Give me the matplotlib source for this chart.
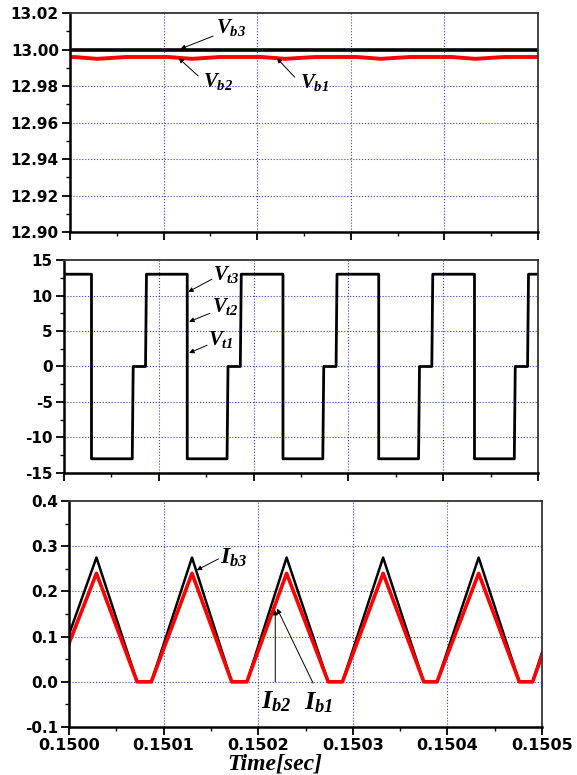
import numpy as np
import matplotlib
matplotlib.use("Agg")
import matplotlib.pyplot as plt
import matplotlib.ticker as ticker

# ── Style ──────────────────────────────────────────────────────────────────
plt.rcParams.update({
    "font.family"      : "DejaVu Sans",
    "font.weight"      : "bold",
    "mathtext.fontset" : "custom",
    "mathtext.it"      : "Liberation Serif:bold:italic",
    "mathtext.rm"      : "Liberation Serif:bold:italic",
    "mathtext.bf"      : "Liberation Serif:bold:italic",
})

C_GRID = "#3a3aff"
C_RED  = "#ff0000"

# ── Battery voltages [V] ───────────────────────────────────────────────────
t_vb3 = [0.15000, 0.15050]
vb3   = [13.000, 13.000]

t_vb12 = [0.150000, 0.150004, 0.150029, 0.150060, 0.150105, 0.150130,
          0.150160, 0.150205, 0.150230, 0.150262, 0.150307, 0.150332,
          0.150363, 0.150408, 0.150433, 0.150464, 0.150500]
vb12   = [12.9959, 12.9959, 12.9949, 12.9959, 12.9959, 12.9949,
          12.9959, 12.9959, 12.9949, 12.9959, 12.9959, 12.9949,
          12.9959, 12.9959, 12.9949, 12.9959, 12.9959]

# ── Terminal voltages [V] (all three overlap) ─────────────────────────────
t_vt = [0.150000, 0.150029, 0.150029, 0.150072, 0.150073, 0.150086, 0.150087,
        0.150130, 0.150130, 0.150172, 0.150173, 0.150186, 0.150187,
        0.150231, 0.150231, 0.150273, 0.150274, 0.150287, 0.150288,
        0.150332, 0.150332, 0.150374, 0.150375, 0.150388, 0.150389,
        0.150433, 0.150433, 0.150475, 0.150476, 0.150489, 0.150490,
        0.150500]
vt   = [13, 13, -13, -13, 0, 0, 13,
        13, -13, -13, 0, 0, 13,
        13, -13, -13, 0, 0, 13,
        13, -13, -13, 0, 0, 13,
        13, -13, -13, 0, 0, 13,
        13]

# ── Battery currents [A] ──────────────────────────────────────────────────
t_ib = [0.150000, 0.150029, 0.150072, 0.150087,
        0.150130, 0.150172, 0.150188,
        0.150230, 0.150274, 0.150289,
        0.150332, 0.150375, 0.150389,
        0.150433, 0.150476, 0.150490, 0.150500]
ib3  = [0.105, 0.275, 0.0, 0.0,
        0.275, 0.0, 0.0,
        0.275, 0.0, 0.0,
        0.275, 0.0, 0.0,
        0.275, 0.0, 0.0, 0.065]
ib12 = [0.085, 0.240, 0.0, 0.0,
        0.240, 0.0, 0.0,
        0.240, 0.0, 0.0,
        0.240, 0.0, 0.0,
        0.240, 0.0, 0.0, 0.058]

x_ticks = [0.1500, 0.1501, 0.1502, 0.1503, 0.1504, 0.1505]


def style_axes(ax, ylim, ymaj, ymin, ygrid, show_x=False):
    ax.set_xlim(0.1500, 0.1505)
    ax.set_ylim(*ylim)
    ax.xaxis.set_major_locator(ticker.FixedLocator(x_ticks))
    ax.xaxis.set_minor_locator(ticker.MultipleLocator(0.00005))
    ax.yaxis.set_major_locator(ticker.MultipleLocator(ymaj))
    ax.yaxis.set_minor_locator(ticker.MultipleLocator(ymin))
    ax.tick_params(which="major", direction="out", length=6, width=1.3,
                   labelsize=11, pad=2, top=False, right=False)
    ax.tick_params(which="minor", direction="out", length=3, width=1.0,
                   top=False, right=False)
    if not show_x:
        ax.tick_params(axis="x", labelbottom=False)
    for side in ("left", "bottom"):
        ax.spines[side].set_linewidth(1.8)
    for side in ("top", "right"):
        ax.spines[side].set_linewidth(1.3)
        ax.spines[side].set_color("#333333")
    for xg in x_ticks[1:-1]:
        ax.axvline(xg, color=C_GRID, lw=0.8, ls=":", zorder=0)
    for yg in ygrid:
        ax.axhline(yg, color=C_GRID, lw=0.8, ls=":", zorder=0)


def arrow(ax, tip, tail):
    ax.annotate("", xy=tip, xytext=tail,
                arrowprops=dict(arrowstyle="-|>", lw=0.7, color="black",
                                mutation_scale=7, shrinkA=0, shrinkB=0))


fig = plt.figure(figsize=(5.77, 7.75), dpi=100)

# ── Top: battery voltages ─────────────────────────────────────────────────
ax1 = fig.add_axes([0.1213, 0.7006, 0.8111, 0.2826])
ax1.plot(t_vb3, vb3, color="black", lw=2.6)
ax1.plot(t_vb12, vb12, color=C_RED, lw=2.8)
style_axes(ax1, (12.90, 13.02), 0.02, 0.01,
           [12.92, 12.94, 12.96, 12.98, 13.00])
ax1.yaxis.set_major_formatter(ticker.FormatStrFormatter("%.2f"))

arrow(ax1, (0.150118, 13.0003), (0.150153, 13.0074))
arrow(ax1, (0.150116, 12.9953), (0.150137, 12.9855))
arrow(ax1, (0.150221, 12.9953), (0.150240, 12.9849))
ax1.text(0.150156, 13.0090, r"$V_{b3}$", fontsize=15)
ax1.text(0.150142, 12.9795, r"$V_{b2}$", fontsize=15)
ax1.text(0.150246, 12.9790, r"$V_{b1}$", fontsize=15)

# ── Middle: terminal voltages ─────────────────────────────────────────────
ax2 = fig.add_axes([0.1109, 0.3897, 0.8215, 0.2748])
ax2.plot(t_vt, vt, color="black", lw=2.0)
style_axes(ax2, (-15, 15), 5, 2.5, [-10, -5, 0, 5, 10])
ax2.yaxis.set_major_formatter(ticker.FormatStrFormatter("%d"))

arrow(ax2, (0.150131, 10.5), (0.150156, 12.3))
arrow(ax2, (0.150132, 6.3), (0.150154, 7.5))
arrow(ax2, (0.150132, 1.9), (0.150151, 3.0))
ax2.text(0.150157, 12.2, r"$V_{t3}$", fontsize=15)
ax2.text(0.150156, 7.7, r"$V_{t2}$", fontsize=15)
ax2.text(0.150152, 3.0, r"$V_{t1}$", fontsize=15)

# ── Bottom: battery currents ──────────────────────────────────────────────
ax3 = fig.add_axes([0.1196, 0.0619, 0.8198, 0.2916])
ax3.plot(t_ib, ib3, color="black", lw=1.8)
ax3.plot(t_ib, ib12, color=C_RED, lw=2.6)
style_axes(ax3, (-0.1, 0.4), 0.1, 0.05, [0.0, 0.1, 0.2, 0.3], show_x=True)
ax3.yaxis.set_major_formatter(ticker.FormatStrFormatter("%.1f"))
ax3.xaxis.set_major_formatter(ticker.FormatStrFormatter("%.4f"))
ax3.tick_params(axis="x", labelsize=11.5)
ax3.set_xlabel("Time[sec]", family="Liberation Serif", style="italic",
               weight="bold", fontsize=17)
ax3.xaxis.set_label_coords(0.435, -0.115)

arrow(ax3, (0.150135, 0.247), (0.150158, 0.272))
arrow(ax3, (0.150218, 0.159), (0.150218, 0.000))
arrow(ax3, (0.150220, 0.162), (0.150258, -0.003))
ax3.text(0.150160, 0.262, r"$I_{b3}$", fontsize=17)
ax3.text(0.150203, -0.058, r"$I_{b2}$", fontsize=19)
ax3.text(0.150248, -0.061, r"$I_{b1}$", fontsize=19)

fig.savefig("out.png", dpi=100)
